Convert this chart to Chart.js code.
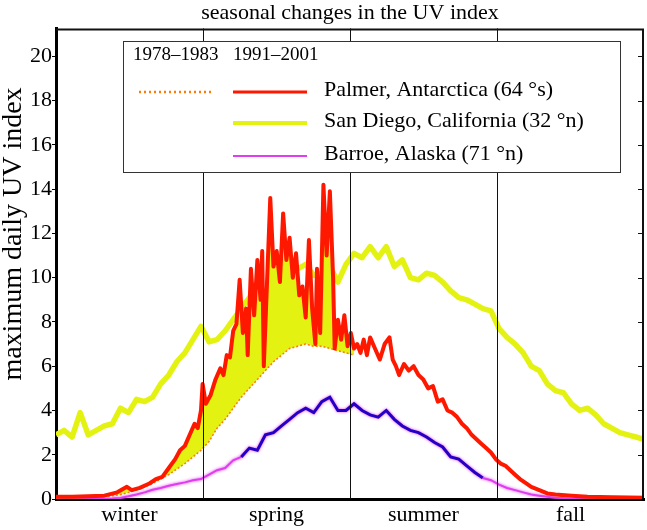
<!DOCTYPE html>
<html>
<head>
<meta charset="utf-8">
<script src="https://cdn.jsdelivr.net/npm/chart.js@4.4.0/dist/chart.umd.min.js"></script>
<style>
html, body { margin: 0; padding: 0; background: #fff; }
#wrap { width: 647px; height: 530px; }
</style>
</head>
<body>
<div id="wrap"><canvas id="uv"></canvas></div>
<script>
// seasons along the year (day of year), UV ticks
var seasons = ['winter', 'spring', 'summer', 'fall'];
var seasonMid = [45.6, 136.9, 228.1, 319.4];
var seasonEdges = [91.25, 182.5, 273.75];
var uvTicks = [0, 2, 4, 6, 8, 10, 12, 14, 16, 18, 20];
var periods = ['1978\u20131983', '1991\u20132001'];
var yTitle = 'maximum daily UV index';

// sampled every 5 days
var days = [0, 5, 10, 15, 20, 25, 30, 35, 40, 45, 50, 55, 60, 65, 70, 75, 80, 85, 90, 95,
  100, 105, 110, 115, 120, 125, 130, 135, 140, 145, 150, 155, 160, 165, 170, 175, 180, 185, 190, 195,
  200, 205, 210, 215, 220, 225, 230, 235, 240, 245, 250, 255, 260, 265, 270, 275, 280, 285, 290, 295,
  300, 305, 310, 315, 320, 325, 330, 335, 340, 345, 350, 355, 360, 365];

var sanDiego = [2.9, 3.1, 2.8, 3.9, 2.9, 3.1, 3.3, 3.4, 4.1, 3.9, 4.5, 4.4, 4.6, 5.2, 5.6, 6.2, 6.6, 7.2, 7.8, 7.1,
  7.2, 7.6, 8.1, 8.6, 9.1, 9.0, 9.3, 9.6, 9.9, 10.2, 10.4, 10.6, 10.1, 10.2, 10.5, 9.8, 10.6, 11.1, 10.9, 11.4,
  10.9, 11.4, 10.5, 10.8, 10.0, 9.9, 10.2, 10.1, 9.8, 9.4, 9.1, 9.0, 8.8, 8.6, 8.5, 7.7, 7.3, 7.0, 6.6, 6.0,
  5.8, 5.2, 4.9, 4.8, 4.3, 4.0, 4.1, 3.8, 3.4, 3.2, 3.0, 2.9, 2.8, 2.7];

var barrow = [0, 0, 0, 0, 0, 0, 0, 0.02, 0.05, 0.12, 0.2, 0.3, 0.42, 0.5, 0.6, 0.68, 0.75, 0.85, 0.9, 1.1,
  1.3, 1.4, 1.75, 1.9, 2.3, 2.2, 2.9, 3.0, 3.3, 3.6, 3.9, 4.1, 3.9, 4.4, 4.6, 4.0, 4.0, 4.3, 4.0, 3.8,
  3.7, 4.0, 3.6, 3.3, 3.1, 3.0, 2.8, 2.55, 2.35, 1.9, 1.8, 1.5, 1.2, 0.95, 0.85, 0.65, 0.5, 0.4, 0.3, 0.2,
  0.15, 0.1, 0.06, 0.03, 0, 0, 0, 0, 0, 0, 0, 0, 0, 0];

// Palmer 1978-1983 (only visible up to early summer)
var palmerOld = [0.05, 0.05, 0.05, 0.06, 0.08, 0.1, 0.12, 0.15, 0.2, 0.3, 0.4, 0.55, 0.7, 0.9, 1.1, 1.35, 1.6, 1.9, 2.2, 2.6,
  3.2, 3.6, 4.1, 4.6, 5.0, 5.4, 5.8, 6.2, 6.5, 6.8, 6.9, 7.0, 6.9, 6.9, 6.8, 6.7, 6.6, 6.5];

// Palmer 1991-2001, denser sampling through the ozone-hole spikes
var palmerDays = [0, 10, 20, 30, 38, 44, 47, 52, 58, 62, 66, 70, 74, 77, 80, 83, 86, 88, 90, 91,
  93, 96, 99, 102, 104, 106, 108, 110, 112, 114, 116, 118, 119, 121, 123, 125, 127, 128, 129, 131,
  133, 135, 137, 139, 141, 143, 145, 147, 149, 151, 153, 155, 157, 159, 161, 162, 164, 166, 168, 170,
  172, 173, 175, 177, 179, 181, 183, 185, 187, 189, 191, 193, 195, 198, 201, 204, 207, 209, 211, 213,
  216, 219, 222, 225, 228, 231, 234, 237, 240, 243, 246, 249, 252, 255, 258, 261, 264, 267, 270, 273,
  276, 279, 282, 285, 288, 291, 295, 300, 305, 310, 320, 330, 345, 365];
var palmerNew = [0.1, 0.1, 0.12, 0.15, 0.3, 0.55, 0.4, 0.5, 0.7, 0.9, 1.0, 1.4, 1.8, 2.2, 2.4, 2.9, 3.4, 3.2, 4.0, 5.2,
  4.3, 4.7, 5.4, 5.9, 5.6, 6.5, 6.4, 7.6, 7.9, 9.9, 7.5, 8.6, 6.5, 10.4, 8.3, 10.8, 9.0, 11.2, 6.0, 9.8,
  13.6, 10.5, 11.2, 9.8, 12.9, 10.8, 11.8, 10.0, 11.1, 9.2, 9.6, 8.2, 11.7, 8.6, 7.0, 10.4, 7.5, 14.2, 11.0, 13.9,
  10.0, 6.8, 8.1, 7.2, 8.3, 6.9, 7.5, 6.8, 7.0, 6.6, 7.2, 6.5, 7.3, 6.8, 6.3, 7.0, 7.3, 6.3, 6.0, 5.6,
  6.1, 5.8, 6.0, 5.6, 5.4, 5.0, 5.1, 4.4, 4.5, 4.0, 3.9, 3.7, 3.4, 3.2, 2.9, 2.7, 2.5, 2.3, 2.1, 1.8,
  1.6, 1.5, 1.3, 1.1, 0.9, 0.75, 0.55, 0.4, 0.25, 0.2, 0.15, 0.1, 0.08, 0.06];

var RED = '#ff1800', ORANGE = '#ff7a00', YELLOW = '#e4f212', MAGENTA = '#e03cf0', BLUE = '#2400c4';

function pts(xs, ys) {
  return ys.map(function(v, i) { return {x: xs[i], y: v}; });
}

Chart.defaults.font.family = '"Liberation Serif", "Times New Roman", serif';
Chart.defaults.color = '#000';

var framePlugin = {
  id: 'frame',
  beforeDatasetDraw: function(chart, args) {
    if (args.index === 3) {
      chart.ctx.save();
      chart.ctx.shadowColor = MAGENTA;
      chart.ctx.shadowBlur = 3;
    }
  },
  afterDatasetDraw: function(chart, args) {
    if (args.index === 3) chart.ctx.restore();
  },
  afterDatasetsDraw: function(chart) {
    var ctx = chart.ctx, a = chart.chartArea;
    var xs = chart.scales.x, ys = chart.scales.y;
    ctx.save();
    // season dividers
    ctx.strokeStyle = '#111';
    ctx.lineWidth = 1;
    seasonEdges.forEach(function(d) {
      var px = Math.round(xs.getPixelForValue(d)) + 0.5;
      ctx.beginPath();
      ctx.moveTo(px, a.top);
      ctx.lineTo(px, a.bottom);
      ctx.stroke();
    });
    // top + right frame
    ctx.lineWidth = 2;
    ctx.beginPath();
    ctx.moveTo(a.left, a.top + 1);
    ctx.lineTo(a.right - 1, a.top + 1);
    ctx.lineTo(a.right - 1, a.bottom);
    ctx.stroke();
    ctx.lineWidth = 1;
    uvTicks.forEach(function(v) {
      if (v === 0) return;
      var py = Math.round(ys.getPixelForValue(v)) + 0.5;
      ctx.beginPath();
      ctx.moveTo(a.right - 6, py);
      ctx.lineTo(a.right, py);
      ctx.stroke();
    });

    // y axis title, placed like the original figure
    ctx.save();
    ctx.translate(14, 234);
    ctx.rotate(-Math.PI / 2);
    ctx.fillStyle = '#000';
    ctx.font = '28px "Liberation Serif"';
    ctx.textAlign = 'center';
    ctx.textBaseline = 'middle';
    ctx.fillText(yTitle, 0, 0);
    ctx.restore();

    // legend box
    var bx = 123, by = 41, bw = 497, bh = 131;
    ctx.fillStyle = '#fff';
    ctx.fillRect(bx, by, bw, bh);
    ctx.strokeStyle = '#333';
    ctx.strokeRect(bx + 0.5, by + 0.5, bw, bh);

    ctx.fillStyle = '#000';
    ctx.textBaseline = 'middle';
    ctx.textAlign = 'left';
    ctx.font = '19px "Liberation Serif"';
    ctx.fillText(periods[0], 133, 55);
    ctx.fillText(periods[1], 233, 55);

    var ds = chart.data.datasets;
    var rows = [
      {y: 92, old: ds[1], cur: ds[0], w: 3},
      {y: 123, cur: ds[2], w: 4},
      {y: 156, cur: ds[3], w: 2}
    ];
    ctx.font = '22px "Liberation Serif"';
    rows.forEach(function(r) {
      if (r.old) {
        ctx.save();
        ctx.strokeStyle = r.old.borderColor;
        ctx.lineWidth = 2.5;
        ctx.setLineDash([2, 3]);
        ctx.beginPath();
        ctx.moveTo(139, r.y);
        ctx.lineTo(212, r.y);
        ctx.stroke();
        ctx.restore();
      }
      ctx.strokeStyle = r.cur.borderColor;
      ctx.lineWidth = r.w;
      ctx.beginPath();
      ctx.moveTo(233, r.y);
      ctx.lineTo(307, r.y);
      ctx.stroke();
      ctx.fillStyle = '#000';
      ctx.fillText(r.cur.label, 324, r.y - 2);
    });
    ctx.restore();
  }
};

new Chart(document.getElementById('uv'), {
  type: 'line',
  data: {
    datasets: [{
      label: 'Palmer, Antarctica (64 \u00b0s)',
      data: pts(palmerDays, palmerNew),
      borderColor: RED,
      borderWidth: 4,
      pointRadius: 0,
      borderJoinStyle: 'round',
      fill: false
    }, {
      label: 'Palmer, Antarctica 1978\u20131983',
      data: pts(days, palmerOld),
      borderColor: ORANGE,
      borderWidth: 1.5,
      borderDash: [2, 2],
      pointRadius: 0,
      fill: {target: 0, above: 'rgba(0,0,0,0)', below: YELLOW}
    }, {
      label: 'San Diego, California (32 \u00b0n)',
      data: pts(days, sanDiego),
      borderColor: YELLOW,
      borderWidth: 5.5,
      pointRadius: 0,
      borderJoinStyle: 'round',
      fill: false
    }, {
      label: 'Barroe, Alaska (71 \u00b0n)',
      data: pts(days, barrow),
      borderColor: MAGENTA,
      borderWidth: 2,
      pointRadius: 0,
      fill: false,
      segment: {
        borderColor: function(c) {
          var d = c.p0.parsed.x;
          return (d >= 115 && d < 262) ? BLUE : MAGENTA;
        },
        borderWidth: function(c) {
          var d = c.p0.parsed.x;
          return (d >= 115 && d < 262) ? 3 : 2;
        }
      }
    }]
  },
  options: {
    responsive: true,
    maintainAspectRatio: false,
    animation: false,
    layout: { padding: { top: 0, right: 3, bottom: 0, left: 0 } },
    plugins: {
      legend: { display: false },
      tooltip: { enabled: false },
      title: {
        display: true,
        text: 'seasonal changes in the UV index',
        fullSize: false,
        color: '#000',
        font: { size: 22, weight: 'normal' },
        padding: { top: 0, bottom: 2 }
      }
    },
    scales: {
      x: {
        type: 'linear',
        min: 0,
        max: 365,
        afterFit: function(s) { s.height = 31; },
        afterBuildTicks: function(s) {
          s.ticks = seasonMid.map(function(v) { return {value: v}; });
        },
        ticks: {
          autoSkip: false,
          maxRotation: 0,
          padding: 3,
          font: { size: 22 },
          callback: function(v, i) { return seasons[i]; }
        },
        grid: { display: false, drawTicks: false },
        border: { color: '#000', width: 3 }
      },
      y: {
        min: 0,
        max: 21.26,
        afterFit: function(s) { s.width = 56; },
        afterBuildTicks: function(s) {
          s.ticks = uvTicks.map(function(v) { return {value: v}; });
        },
        ticks: { padding: 0, font: { size: 22 } },
        grid: { drawOnChartArea: false, drawTicks: true, tickLength: 4, color: '#000' },
        border: { color: '#000', width: 3 },
        title: { display: false }
      }
    }
  },
  plugins: [framePlugin]
});
</script>
</body>
</html>
